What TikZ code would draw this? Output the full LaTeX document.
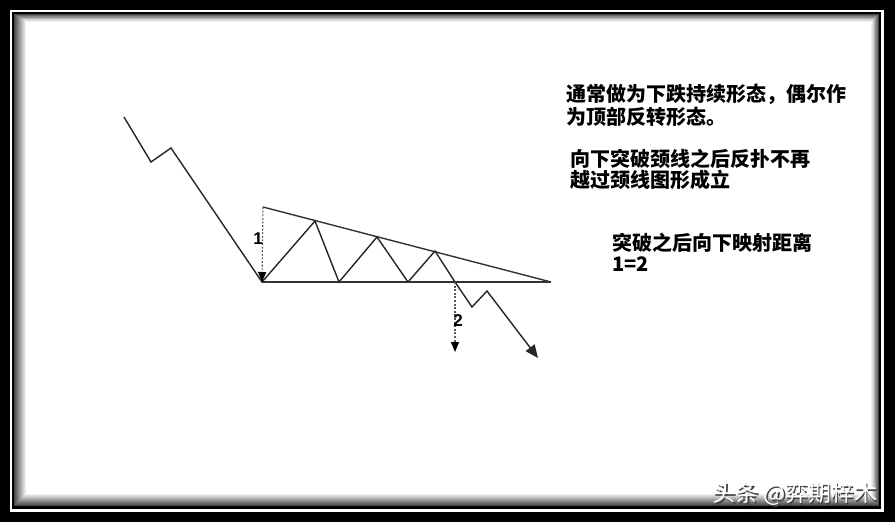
\documentclass[tikz,border=0pt]{standalone}
\usepackage{fontspec}
\newfontfamily\cjk{Noto Sans CJK SC}
\newfontfamily\lblfont{Liberation Sans}
\usetikzlibrary{arrows.meta}
\tikzset{
  price/.style={line width=1.4pt, line join=miter, black!85},
  neck/.style={line width=1.4pt, black!80},
  measure/.style={dash pattern=on 2pt off 1.6pt, line width=1.1pt, black!65,
    -{Triangle[length=10pt,width=8pt,color=black]}},
  note/.style={anchor=base west, inner sep=0pt, font=\cjk\bfseries\fontsize{20}{24}\selectfont, text=black},
  numlbl/.style={inner sep=0pt, font=\lblfont\bfseries\fontsize{17}{19}\selectfont, text=black},
}
\begin{document}
\begin{tikzpicture}[x=1pt,y=-1pt]
\useasboundingbox (0,0) rectangle (895,522);
% frame
\fill[black] (0,0) rectangle (895,522);
\fill[white] (10,10) rectangle (884,512);
\fill[black] (12,12) rectangle (881,509);
\fill[white] (14,14) rectangle (879,506);
\foreach \i in {0,...,11} {
  \pgfmathsetmacro{\g}{72-6*\i}
  \draw[draw=black!\g, line width=1.1pt] (14.5+\i,14.5+0.6*\i) rectangle (878.5-0.6*\i,505.5-\i);
}
% points
\coordinate (s0) at (124,117);
\coordinate (s1) at (151,162);
\coordinate (s2) at (171,148);
\coordinate (b0) at (262,282);
\coordinate (t0) at (263,207);
\coordinate (p1) at (315,221);
\coordinate (b1) at (339,282);
\coordinate (p2) at (377,237);
\coordinate (b2) at (408,282);
\coordinate (p3) at (435,251);
\coordinate (x0) at (455,282);
\coordinate (l1) at (472,307);
\coordinate (h1) at (487,291);
\coordinate (e1) at (538,358);
\coordinate (apex) at (551,282);
\coordinate (m2) at (455,352);
% triangle boundaries
\draw[neck] (t0) -- (apex);
\draw[neck] (b0) -- (apex);
% price path
\draw[price, -{Triangle[length=13pt,width=11pt]}] (s0) -- (s1) -- (s2) -- (b0) -- (p1) -- (b1) -- (p2) -- (b2) -- (p3) -- (x0) -- (l1) -- (h1) -- (e1);
% measures
\draw[measure] (t0) -- (b0);
\draw[measure] (x0) -- (m2);
\node[numlbl] (n1) at (258,239) {1};
\node[numlbl] (n2) at (458,321) {2};
% notes
\node[note] (a1) at (566,101) {通常做为下跌持续形态，偶尔作};
\node[note] (a2) at (566,124) {为顶部反转形态。};
\node[note] (b1t) at (570,166) {向下突破颈线之后反扑不再};
\node[note] (b2t) at (570,187) {越过颈线图形成立};
\node[note] (c1) at (612,250) {突破之后向下映射距离};
\node[note] (c2) at (612,271) {1=2};
% watermark
\node[inner sep=0pt, font=\cjk\fontsize{23}{26}\selectfont, text=black!75] (wms) at (796.5,495.5) {头条 @弈期梓木};
\node[inner sep=0pt, font=\cjk\fontsize{23}{26}\selectfont, text=white] (wm) at (795,494) {头条 @弈期梓木};
\end{tikzpicture}
\end{document}
